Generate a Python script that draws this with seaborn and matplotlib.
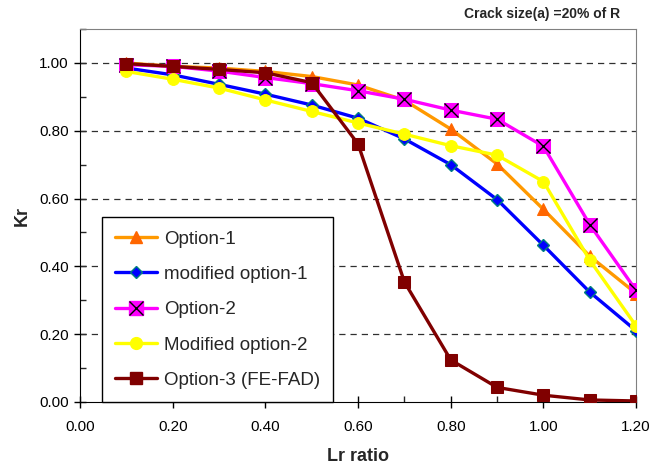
#IMPORTING NECESSARY LIBRARIES
import matplotlib
matplotlib.use('Agg')
import matplotlib.pyplot as plt
from matplotlib.legend_handler import HandlerTuple
from matplotlib.lines import Line2D
from matplotlib.ticker import MultipleLocator, FormatStrFormatter
import seaborn as sns

#DATA
lr_ratio = [0.1, 0.2, 0.3, 0.4, 0.5, 0.6, 0.7, 0.8, 0.9, 1.0, 1.1, 1.2]
option1 = [1.00, 0.99, 0.985, 0.975, 0.96, 0.935, 0.89, 0.805, 0.702, 0.568, 0.43, 0.32]
mod_option1 = [0.985, 0.965, 0.937, 0.908, 0.876, 0.837, 0.776, 0.70, 0.597, 0.462, 0.324, 0.21]
option2 = [0.995, 0.99, 0.976, 0.957, 0.939, 0.918, 0.893, 0.861, 0.834, 0.754, 0.523, 0.329]
mod_option2 = [0.975, 0.952, 0.926, 0.891, 0.857, 0.823, 0.79, 0.756, 0.728, 0.65, 0.418, 0.224]
option3 = [0.998, 0.99, 0.981, 0.971, 0.942, 0.761, 0.354, 0.124, 0.043, 0.02, 0.006, 0.003]

labels = ['Option-1', 'modified option-1', 'Option-2', 'Modified option-2', 'Option-3 (FE-FAD)']

#STYLE
sns.set_style('ticks')
plt.rcParams['font.family'] = ['Liberation Sans', 'DejaVu Sans']

fig = plt.figure(figsize=(6.52, 4.65), dpi=100)
ax = fig.add_axes([0.1227, 0.1355, 0.853, 0.802])

#SERIES
sns.lineplot(x=lr_ratio, y=option1, ax=ax, color='#FF9900', lw=2.4, marker='^',
             markersize=8, markerfacecolor='#FF6600', markeredgecolor='#FF6600', zorder=3)
sns.lineplot(x=lr_ratio, y=mod_option1, ax=ax, color='#0000FF', lw=2.4, marker='D',
             markersize=6, markerfacecolor='#0000FF', markeredgecolor='#008080', markeredgewidth=1, zorder=4)
sns.lineplot(x=lr_ratio, y=option2, ax=ax, color='#FF00FF', lw=2.4, marker='s',
             markersize=10, markerfacecolor='#FF00FF', markeredgecolor='#FF00FF', zorder=5)
ax.plot(lr_ratio, option2, ls='none', marker='x', markersize=10, color='black', mew=1, zorder=5.5)
sns.lineplot(x=lr_ratio, y=mod_option2, ax=ax, color='#FFFF00', lw=2.4, marker='o',
             markersize=8.5, markerfacecolor='#FFFF00', markeredgecolor='#FFFF00', zorder=6)
sns.lineplot(x=lr_ratio, y=option3, ax=ax, color='#800000', lw=2.4, marker='s',
             markersize=8.5, markerfacecolor='#800000', markeredgecolor='#800000', zorder=7)

#AXES
ax.set_xlim(0, 1.2)
ax.set_ylim(0, 1.1)
ax.xaxis.set_major_locator(MultipleLocator(0.2))
ax.xaxis.set_minor_locator(MultipleLocator(0.1))
ax.yaxis.set_major_locator(MultipleLocator(0.2))
ax.yaxis.set_minor_locator(MultipleLocator(0.1))
ax.xaxis.set_major_formatter(FormatStrFormatter('%.2f'))
ax.yaxis.set_major_formatter(FormatStrFormatter('%.2f'))
ax.tick_params(which='major', direction='inout', length=8, width=1, labelsize=11, colors='black', pad=4)
ax.tick_params(axis='x', which='major', pad=9)
ax.tick_params(which='minor', direction='in', length=4, width=1)

for y in [0.2, 0.4, 0.6, 0.8, 1.0]:
    ax.axhline(y, color='#303030', lw=0.9, ls=(0, (5, 4)), zorder=1)

for side in ['top', 'right']:
    ax.spines[side].set_color('#808080')
for side in ['left', 'bottom']:
    ax.spines[side].set_color('black')

ax.set_xlabel('Lr ratio', fontsize=13, fontweight='bold', labelpad=10)
ax.set_ylabel('Kr', fontsize=13, fontweight='bold', labelpad=6)
fig.text(0.951, 0.955, 'Crack size(a) =20% of R', fontsize=10, fontweight='bold', ha='right', va='bottom')

#LEGEND
handles = [
    Line2D([], [], color='#FF9900', lw=2.4, marker='^', markersize=8, mfc='#FF6600', mec='#FF6600'),
    Line2D([], [], color='#0000FF', lw=2.4, marker='D', markersize=6, mfc='#0000FF', mec='#008080'),
    (Line2D([], [], color='#FF00FF', lw=2.4, marker='s', markersize=10, mfc='#FF00FF', mec='#FF00FF'),
     Line2D([], [], ls='none', marker='x', markersize=10, color='black', mew=1)),
    Line2D([], [], color='#FFFF00', lw=2.4, marker='o', markersize=8.5, mfc='#FFFF00', mec='#FFFF00'),
    Line2D([], [], color='#800000', lw=2.4, marker='s', markersize=8.5, mfc='#800000', mec='#800000'),
]
leg = ax.legend(handles, labels, loc='lower left', bbox_to_anchor=(0.04, 0.0), borderaxespad=0,
                fancybox=False, edgecolor='black', framealpha=1, fontsize=13.5, handlelength=2.2,
                handletextpad=0.4, labelspacing=0.97, borderpad=0.7,
                handler_map={tuple: HandlerTuple(ndivide=1, pad=0)})
leg.get_frame().set_linewidth(1)
leg.set_zorder(10)

plt.savefig('out.png', dpi=100)
